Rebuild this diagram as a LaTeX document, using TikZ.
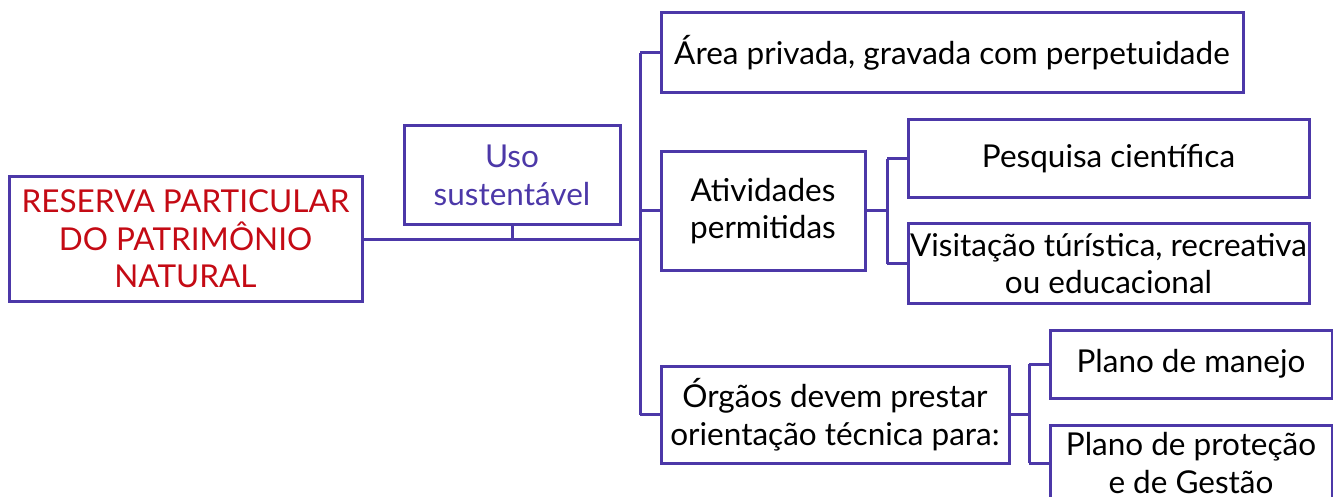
\documentclass[tikz,border=0pt]{standalone}
\usepackage{fontspec}
\setmainfont{Lato}
\definecolor{lineblue}{RGB}{76,56,168}
\definecolor{titlered}{RGB}{196,10,20}
\begin{document}
\begin{tikzpicture}[x=1pt,y=-1pt,
  box/.style={draw=lineblue,line width=3pt,align=center,inner sep=0pt,
    font=\fontsize{31.5}{37.5}\selectfont,text=black},
  link/.style={draw=lineblue,line width=3pt}]
\useasboundingbox (0,0) rectangle (1333,497);
\node[box,minimum width=353,minimum height=124,text=titlered] (main) at (185.5,239) {RESERVA PARTICULAR\\DO PATRIMÔNIO\\NATURAL};
\node[box,minimum width=216,minimum height=99,text=lineblue] (uso) at (512,175.5) {Uso\\sustentável};
\node[box,minimum width=582,minimum height=80] (area) at (952,53) {Área privada, gravada com perpetuidade};
\node[box,minimum width=204,minimum height=118] (ativ) at (763,211) {Atividades\\permitidas};
\node[box,minimum width=348,minimum height=97] (org) at (835,414.5) {Órgãos devem prestar\\orientação técnica para:};
\node[box,minimum width=401,minimum height=78] (pesq) at (1108.5,159) {Pesquisa científica};
\node[box,minimum width=401,minimum height=79] (visit) at (1108.5,263.5) {Visitação túrística, recreativa\\ou educacional};
\node[box,minimum width=282,minimum height=68] (manejo) at (1191,364) {Plano de manejo};
\node[box,minimum width=282,minimum height=76] (prot) at (1191,463) {Plano de proteção\\e de Gestão};
\coordinate (t1) at (640,0);
\coordinate (t2) at (887,0);
\coordinate (t3) at (1029,0);
\draw[link] (main.east) -- (main.east -| t1);
\draw[link] (uso.south) -- (uso.south |- main.east);
\draw[link] (area.west -| t1) -- (org.west -| t1);
\draw[link] (area.west) -- (area.west -| t1);
\draw[link] (ativ.west) -- (ativ.west -| t1);
\draw[link] (org.west) -- (org.west -| t1);
\draw[link] (ativ.east) -- (ativ.east -| t2);
\draw[link] (pesq.west -| t2) -- (visit.west -| t2);
\draw[link] (pesq.west) -- (pesq.west -| t2);
\draw[link] (visit.west) -- (visit.west -| t2);
\draw[link] (org.east) -- (org.east -| t3);
\draw[link] (manejo.west -| t3) -- (prot.west -| t3);
\draw[link] (manejo.west) -- (manejo.west -| t3);
\draw[link] (prot.west) -- (prot.west -| t3);
\end{tikzpicture}
\end{document}
